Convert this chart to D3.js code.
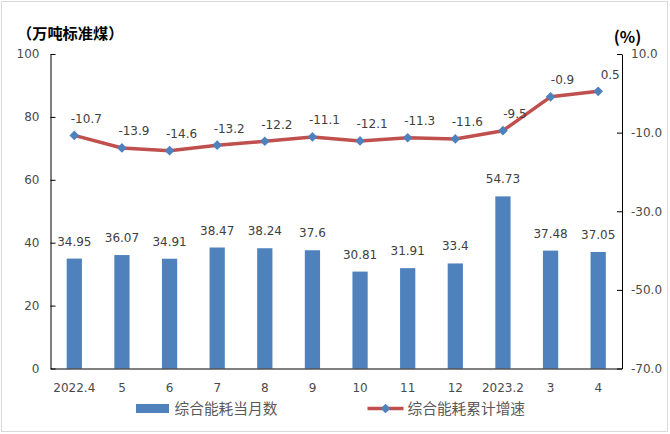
<!DOCTYPE html>
<html>
<head>
<meta charset="utf-8">
<script src="https://cdn.jsdelivr.net/npm/d3@7"></script>
<style>
  html, body { margin: 0; padding: 0; background: #fff; }
  svg { display: block; }
</style>
</head>
<body>
<svg id="chart" width="670" height="434"></svg>
<script>
const categories = ["2022.4", "5", "6", "7", "8", "9", "10", "11", "12", "2023.2", "3", "4"];
const monthlyConsumption = [34.95, 36.07, 34.91, 38.47, 38.24, 37.6, 30.81, 31.91, 33.4, 54.73, 37.48, 37.05];
const cumulativeGrowth = [-10.7, -13.9, -14.6, -13.2, -12.2, -11.1, -12.1, -11.3, -11.6, -9.5, -0.9, 0.5];
const leftTicks = [0, 20, 40, 60, 80, 100];
const rightTicks = [-70, -50, -30, -10, 10];
const barName = "综合能耗当月数";
const lineName = "综合能耗累计增速";
const leftTitle = "（万吨标准煤）";
const rightTitle = "(%)";

const svg = d3.select("#chart");
const numFont = "'DejaVu Sans', sans-serif";
const cjkFont = "'Noto Sans CJK SC', sans-serif";
const textColor = "#404040";
const axisTextColor = "#4a4a4a";
const barColor = "#4F81BD";
const lineColor = "#C0504D";

// outer border
svg.append("rect").attr("x", 1.5).attr("y", 1.5).attr("width", 666).attr("height", 430)
  .attr("fill", "#fff").attr("stroke", "#d9d9d9").attr("stroke-width", 1);

const plotLeft = 50.5, plotRight = 622, plotTop = 54, plotBottom = 368.5;

const x = d3.scaleBand().domain(categories).range([plotLeft, plotRight]).padding(0);
const yL = d3.scaleLinear().domain([0, 100]).range([plotBottom, plotTop]);
const yR = d3.scaleLinear().domain([-70, 10]).range([plotBottom, plotTop]);
const bw = x.bandwidth();
const cx = c => x(c) + bw / 2;

// bars
svg.append("g").selectAll("rect").data(categories).join("rect")
  .attr("x", (c) => cx(c) - bw * 0.16)
  .attr("width", bw * 0.32)
  .attr("y", (c, i) => yL(monthlyConsumption[i]))
  .attr("height", (c, i) => plotBottom - yL(monthlyConsumption[i]))
  .attr("fill", barColor);

// bar labels
svg.append("g").selectAll("text").data(categories).join("text")
  .attr("x", c => cx(c))
  .attr("y", (c, i) => yL(monthlyConsumption[i]) - 13)
  .attr("text-anchor", "middle")
  .attr("font-family", numFont).attr("font-size", 12).attr("fill", textColor)
  .text((c, i) => String(monthlyConsumption[i]));

// left axis
const gL = svg.append("g").attr("transform", `translate(${plotLeft},0)`)
  .call(d3.axisLeft(yL).tickValues(leftTicks).tickFormat(d3.format("d"))
    .tickSizeInner(-5).tickSizeOuter(0).tickPadding(11));
gL.selectAll("path, line").attr("stroke", "#000");
gL.selectAll("text").attr("font-family", numFont).attr("font-size", 12).attr("fill", axisTextColor);

// right axis
const gR = svg.append("g").attr("transform", `translate(${plotRight},0)`)
  .call(d3.axisRight(yR).tickValues(rightTicks).tickFormat(d3.format(".1f"))
    .tickSizeInner(-5).tickSizeOuter(0).tickPadding(9));
gR.selectAll("path, line").attr("stroke", "#000");
gR.selectAll("text").attr("font-family", numFont).attr("font-size", 12).attr("fill", axisTextColor)
  .text(d => d3.format(".1f")(d).replace("−", "-"));

// bottom axis
const gB = svg.append("g").attr("transform", `translate(0,${plotBottom})`)
  .call(d3.axisBottom(x).tickSize(0).tickPadding(15));
gB.select("path").attr("stroke", "#000");
gB.selectAll("text").attr("font-family", numFont).attr("font-size", 12).attr("fill", axisTextColor);

// line
const lineGen = d3.line().x((d, i) => cx(categories[i])).y(d => yR(d));
svg.append("path").datum(cumulativeGrowth)
  .attr("d", lineGen).attr("fill", "none")
  .attr("stroke", lineColor).attr("stroke-width", 3.5).attr("stroke-linejoin", "round");

// markers
const diamond = d3.symbol().type(d3.symbolDiamond2).size(60);
svg.append("g").selectAll("path").data(cumulativeGrowth).join("path")
  .attr("d", diamond)
  .attr("transform", (d, i) => `translate(${cx(categories[i])},${yR(d)})`)
  .attr("fill", barColor);

// line labels
svg.append("g").selectAll("text").data(cumulativeGrowth).join("text")
  .attr("x", (d, i) => cx(categories[i]) + 12)
  .attr("y", d => yR(d) - 12.5)
  .attr("text-anchor", "middle")
  .attr("font-family", numFont).attr("font-size", 12).attr("fill", textColor)
  .text(d => d3.format(".1f")(d).replace("−", "-"));

// titles
svg.append("text").attr("x", 17).attr("y", 39)
  .attr("font-family", cjkFont).attr("font-size", 15.2).attr("font-weight", "bold").attr("fill", "#000")
  .text(leftTitle);
svg.append("text").attr("x", 627.5).attr("y", 43)
  .attr("text-anchor", "middle")
  .attr("font-family", cjkFont).attr("font-size", 16).attr("font-weight", "bold").attr("fill", "#000")
  .text(rightTitle);

// legend
const lg = svg.append("g");
lg.append("rect").attr("x", 136).attr("y", 404).attr("width", 33).attr("height", 9).attr("fill", barColor);
lg.append("text").attr("x", 174.5).attr("y", 413.5)
  .attr("font-family", cjkFont).attr("font-size", 14.7).attr("fill", "#595959").text(barName);
lg.append("line").attr("x1", 367.5).attr("x2", 403.5).attr("y1", 408.5).attr("y2", 408.5)
  .attr("stroke", lineColor).attr("stroke-width", 3.5);
lg.append("path").attr("d", diamond).attr("transform", "translate(385.5,408.5)").attr("fill", barColor);
lg.append("text").attr("x", 407.5).attr("y", 413.5)
  .attr("font-family", cjkFont).attr("font-size", 14.7).attr("fill", "#595959").text(lineName);
</script>
</body>
</html>
